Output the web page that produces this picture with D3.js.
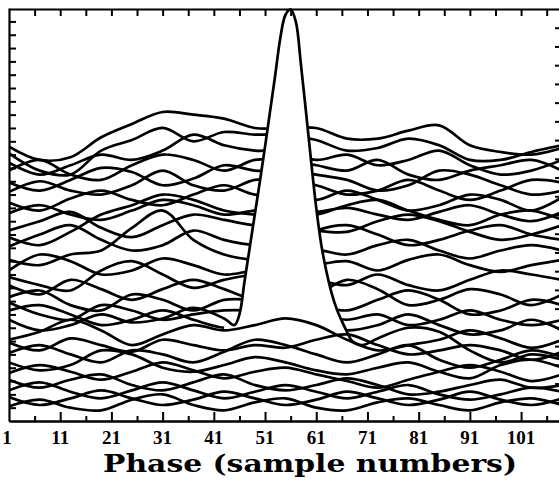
<!DOCTYPE html>
<html>
<head>
<meta charset="utf-8">
<script src="https://cdn.jsdelivr.net/npm/d3@7"></script>
<style>
  html, body { margin: 0; padding: 0; background: #fff; }
  svg { display: block; }
</style>
</head>
<body>
<svg id="chart" width="559" height="485"></svg>
<script>
// Phase samples at which each background profile is tabulated
const phase = [1, 7, 13, 19, 25, 31, 37, 43, 49, 55, 61, 67, 73, 79, 85, 91, 97, 103, 109];

// Stacked off-pulse profiles, listed from the back (top) of the stack to the front
const traces = [
  [206,196,198,213,223,232,230,227,220,220,220,212,212,218,222,207,202,200,205],
  [201,188,185,203,211,220,210,217,215,215,211,203,205,212,207,196,196,202,207],
  [194,185,192,200,196,203,215,207,203,203,196,200,192,196,203,192,185,188,196],
  [188,196,185,181,192,200,196,188,196,196,192,188,196,185,181,188,192,196,188],
  [179,173,181,190,187,177,182,192,188,188,185,181,173,177,188,185,177,170,173],
  [172,180,173,170,177,188,177,173,181,181,177,170,173,181,173,166,173,181,179],
  [164,158,167,173,166,162,170,177,170,170,166,173,166,158,162,170,166,158,168],
  [156,162,155,151,158,166,162,155,158,158,157,160,155,151,157,162,155,150,157],
  [143,150,157,145,138,147,155,151,147,147,143,142,150,155,150,142,136,140,147],
  [138,132,142,155,162,170,166,158,155,155,155,162,166,158,151,147,155,158,151],
  [131,140,147,136,128,132,143,136,132,132,143,147,140,132,136,143,147,140,136],
  [121,117,125,128,145,158,136,125,121,121,128,125,132,136,128,122,128,132,128],
  [113,125,120,110,113,122,117,110,113,113,117,120,113,121,125,117,112,117,121],
  [108,102,98,113,120,110,100,106,110,110,106,102,110,102,98,106,113,110,106],
  [102,95,106,99,91,99,106,99,91,91,95,106,99,87,91,99,95,87,95],
  [93,98,87,83,95,91,83,91,91,91,87,83,91,98,91,80,83,91,87],
  [89,80,76,87,83,76,80,83,83,83,80,76,80,72,76,83,76,72,76],
  [83,87,80,72,76,83,76,70,72,72,72,68,72,80,72,65,68,76,68],
  [61,67,76,68,57,65,72,68,72,77,72,61,53,57,61,68,62,55,61],
  [59,53,62,57,52,61,57,53,57,55,61,65,57,50,53,57,53,46,52],
  [51,57,50,44,53,50,44,52,61,57,50,44,50,57,46,40,46,53,48],
  [44,38,42,53,50,40,37,42,48,44,38,35,40,44,37,32,42,46,40],
  [36,42,37,31,37,44,38,32,37,40,35,30,25,31,37,42,37,30,35],
  [31,25,31,35,27,23,29,35,27,23,27,32,27,20,22,27,31,25,27],
  [23,29,22,17,23,29,23,17,22,27,22,17,22,27,20,16,20,25,22],
  [18,12,17,23,17,12,16,22,17,12,16,22,17,12,16,22,16,12,17],
  [11,16,10,8,16,20,12,8,14,17,10,8,14,17,12,8,14,17,12]
];

// The on-pulse profile, tabulated densely across the pulse
const peakPhase = [1,7,13,19,25,31,37,43,45,46,47,48,49,50,51,52,53,54,55,56,57,58,59,60,61,62,63,64,65,66,67,68,70,73,79,85,91,97,103,109];
const peakValues = [76,68,72,80,74,77,85,77,72,80,105,130,155,180,206,233,260,288,305,309,300,268,232,195,160,132,112,96,84,75,67,60,57,62,70,67,53,44,50,46];
// Position of the pulse profile within the stack (drawn before traces[peakSlot])
const peakSlot = 18;

const phaseTicks = [6,11,16,21,26,31,36,41,46,51,56,61,66,71,76,81,86,91,96,101,106];
const phaseLabels = [1, 11, 21, 31, 41, 51, 61, 71, 81, 91, 101];
const xTitle = "Phase (sample numbers)";

const svg = d3.select("#chart");
const plotLeft = 9, plotRight = 560, plotTop = 8.1, plotBottom = 421;

const x = d3.scaleLinear().domain([1, 108.6]).range([plotLeft, plotRight]);
const y = d3.scaleLinear().domain([0, 310]).range([plotBottom, plotTop]);
const yRight = d3.scaleLinear().domain([0, 22]).range([plotBottom, 9]);

svg.append("defs").append("clipPath").attr("id", "plotClip")
  .append("rect").attr("x", plotLeft).attr("y", plotTop - 1)
  .attr("width", plotRight - plotLeft).attr("height", plotBottom - plotTop + 1);

const plot = svg.append("g").attr("clip-path", "url(#plotClip)");

const line = d3.line()
  .x(d => x(d[0])).y(d => y(d[1]))
  .curve(d3.curveCatmullRom.alpha(0.5));

const area = d3.area()
  .x(d => x(d[0])).y0(plotBottom).y1(d => y(d[1]))
  .curve(d3.curveCatmullRom.alpha(0.5));

const strokeW = 2.7;

function drawTrace(vals) {
  plot.append("path")
    .datum(phase.map((p, i) => [p, vals[i]]))
    .attr("d", line)
    .attr("fill", "none")
    .attr("stroke", "#000")
    .attr("stroke-width", strokeW)
    .attr("stroke-linejoin", "round");
}

function drawPeak() {
  const pts = peakPhase.map((p, i) => [p, peakValues[i]]);
  // opaque body of the pulse hides the profiles behind it
  plot.append("path")
    .datum(pts.filter(d => d[0] >= 43 && d[0] <= 70))
    .attr("d", area)
    .attr("fill", "#fff")
    .attr("stroke", "none");
  plot.append("path")
    .datum(pts)
    .attr("d", line)
    .attr("fill", "none")
    .attr("stroke", "#000")
    .attr("stroke-width", strokeW)
    .attr("stroke-linejoin", "round");
}

traces.forEach((t, i) => {
  if (i === peakSlot) drawPeak();
  drawTrace(t);
});

// Frame and ticks
const axisStyle = g => {
  g.selectAll("path.domain").attr("stroke", "#000").attr("stroke-width", 2.2);
  g.selectAll(".tick line").attr("stroke", "#000").attr("stroke-width", 2);
  g.selectAll(".tick text").remove();
};

svg.append("g").attr("transform", `translate(0,${plotBottom})`)
  .call(d3.axisBottom(x).tickValues(phaseTicks.filter(t => (t - 1) % 10 !== 0)).tickSize(-5).tickSizeOuter(0))
  .call(axisStyle);
svg.append("g").attr("transform", `translate(0,${plotBottom})`)
  .call(d3.axisBottom(x).tickValues(phaseTicks.filter(t => (t - 1) % 10 === 0)).tickSize(-9).tickSizeOuter(0))
  .call(axisStyle);
svg.append("g").attr("transform", `translate(0,9)`)
  .call(d3.axisTop(x).tickValues(phaseTicks).tickSize(-7).tickSizeOuter(0))
  .call(axisStyle);
svg.append("g").attr("transform", `translate(${plotLeft},0)`)
  .call(d3.axisLeft(y).tickValues(d3.range(10, 310, 10)).tickSize(-7).tickSizeOuter(0))
  .call(axisStyle);
svg.append("g").attr("transform", `translate(${plotRight},0)`)
  .call(d3.axisRight(yRight).tickValues(d3.range(1, 22)).tickSize(-5).tickSizeOuter(0))
  .call(axisStyle);

// Phase labels
svg.append("g").selectAll("text").data(phaseLabels).join("text")
  .attr("x", d => x(d) - (d === 1 ? 2 : 0))
  .attr("y", 444)
  .attr("text-anchor", "middle")
  .attr("font-family", "'Liberation Serif', 'DejaVu Serif', serif")
  .attr("font-weight", "bold")
  .attr("font-size", 19)
  .text(d => d);

svg.append("text")
  .attr("x", 103)
  .attr("y", 472)
  .attr("font-family", "'DejaVu Serif', serif")
  .attr("font-weight", "bold")
  .attr("font-size", 25)
  .attr("textLength", 414)
  .attr("lengthAdjust", "spacingAndGlyphs")
  .text(xTitle);
</script>
</body>
</html>
